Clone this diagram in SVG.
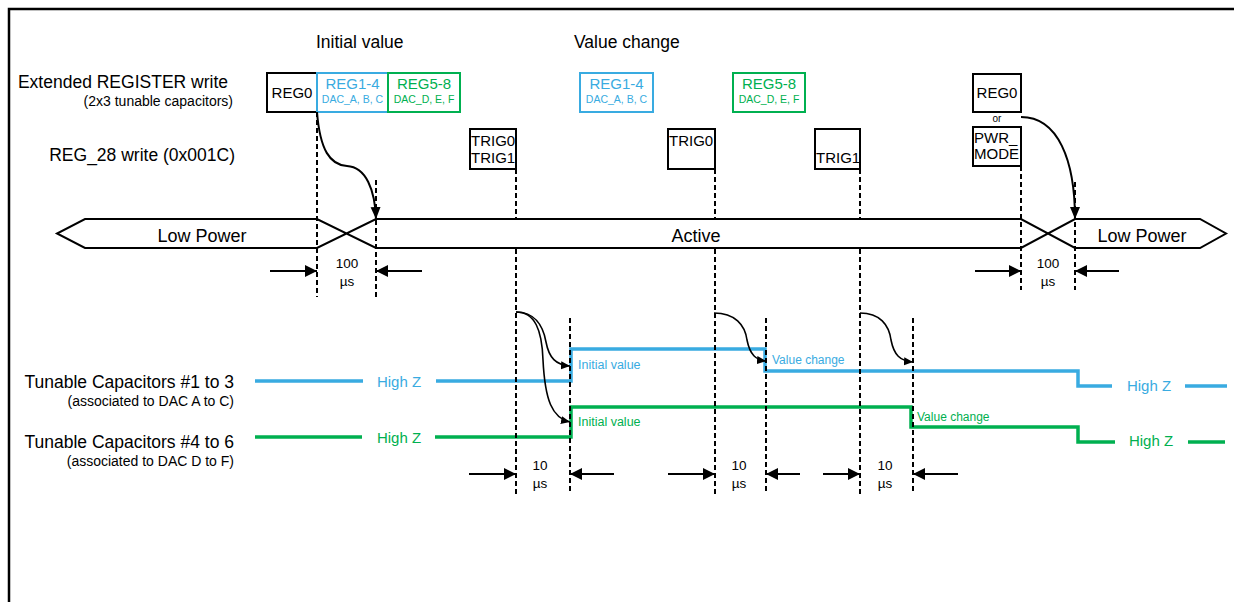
<svg xmlns="http://www.w3.org/2000/svg" width="1234" height="602" viewBox="0 0 1234 602">
<style>
text{font-family:"Liberation Sans",Arial,sans-serif;fill:#000}
.lbl{font-size:17.5px}
.sub{font-size:14px}
.box{fill:#fff;stroke:#000;stroke-width:2}
.bbox{fill:#fff;stroke:#39ABE1;stroke-width:2}
.gbox{fill:#fff;stroke:#00B050;stroke-width:2}
.bt{fill:#39ABE1}
.gt{fill:#00B050}
.reg{font-size:15px}
.dac{font-size:10.5px}
.dash{stroke:#000;stroke-width:2;stroke-dasharray:5,3;fill:none}
.ln{stroke:#000;stroke-width:2;fill:none}
.dim{stroke:#000;stroke-width:2;fill:none;marker-end:url(#dimArrow)}
.crv{stroke:#000;stroke-width:2;fill:none;marker-end:url(#crvArrow)}
.crvs{stroke:#000;stroke-width:1.6;fill:none;marker-end:url(#smArrow)}
.sig-b{stroke:#39ABE1;stroke-width:3.5;fill:none}
.sig-g{stroke:#00B050;stroke-width:3.5;fill:none}
.num{font-size:13.5px;text-anchor:middle}
</style>
<defs>
<marker id="dimArrow" markerUnits="userSpaceOnUse" markerWidth="13" markerHeight="12" refX="12" refY="6" orient="auto"><path d="M0,0 L12,6 L0,12 z" fill="#000"/></marker>
<marker id="crvArrow" markerUnits="userSpaceOnUse" markerWidth="13" markerHeight="11" refX="12" refY="5" orient="auto"><path d="M0,0 L12,5 L0,10 z" fill="#000"/></marker>
<marker id="smArrow" markerUnits="userSpaceOnUse" markerWidth="10" markerHeight="9" refX="9" refY="4" orient="auto"><path d="M0,0 L9,4 L0,8 z" fill="#000"/></marker>
</defs>
<rect width="1234" height="602" fill="#fff"/>
<path d="M9,602 V9 H1234" stroke="#000" stroke-width="2.5" fill="none"/>

<g id="labels">
<text x="316" y="48" class="lbl">Initial value</text>
<text x="574" y="48" class="lbl">Value change</text>
<text x="228" y="88" class="lbl" text-anchor="end">Extended REGISTER write</text>
<text x="233" y="106" class="sub" text-anchor="end">(2x3 tunable capacitors)</text>
<text x="235" y="161" class="lbl" text-anchor="end">REG_28 write (0x001C)</text>
<text x="234" y="388" class="lbl" text-anchor="end">Tunable Capacitors #1 to 3</text>
<text x="234" y="406" class="sub" text-anchor="end">(associated to DAC A to C)</text>
<text x="234" y="448" class="lbl" text-anchor="end">Tunable Capacitors #4 to 6</text>
<text x="234" y="466" class="sub" text-anchor="end">(associated to DAC D to F)</text>
</g>

<g id="reg0-init">
<rect x="267" y="73" width="50" height="39" class="box"/>
<text x="292" y="98" class="reg" text-anchor="middle">REG0</text>
</g>
<g id="reg1-4-init">
<rect x="317" y="73" width="71" height="39" class="bbox"/>
<text x="352.5" y="89" class="reg bt" text-anchor="middle">REG1-4</text>
<text x="352.5" y="103" class="dac bt" text-anchor="middle">DAC_A, B, C</text>
</g>
<g id="reg5-8-init">
<rect x="388" y="73" width="72" height="39" class="gbox"/>
<text x="424" y="89" class="reg gt" text-anchor="middle">REG5-8</text>
<text x="424" y="103" class="dac gt" text-anchor="middle">DAC_D, E, F</text>
</g>
<g id="reg1-4-change">
<rect x="580" y="73" width="73" height="39" class="bbox"/>
<text x="616.5" y="89" class="reg bt" text-anchor="middle">REG1-4</text>
<text x="616.5" y="103" class="dac bt" text-anchor="middle">DAC_A, B, C</text>
</g>
<g id="reg5-8-change">
<rect x="733" y="73" width="72" height="39" class="gbox"/>
<text x="769" y="89" class="reg gt" text-anchor="middle">REG5-8</text>
<text x="769" y="103" class="dac gt" text-anchor="middle">DAC_D, E, F</text>
</g>
<g id="trig01">
<rect x="470" y="129" width="46" height="40" class="box"/>
<text x="471" y="146" class="reg">TRIG0</text>
<text x="471" y="163" class="reg">TRIG1</text>
</g>
<g id="trig0">
<rect x="668" y="129" width="47" height="40" class="box"/>
<text x="669" y="146" class="reg">TRIG0</text>
</g>
<g id="trig1">
<rect x="815" y="129" width="45" height="40" class="box"/>
<text x="816" y="163" class="reg">TRIG1</text>
</g>
<g id="reg0-end">
<rect x="973" y="74" width="48" height="38" class="box"/>
<text x="997" y="98" class="reg" text-anchor="middle">REG0</text>
<text x="997" y="122" font-size="10" text-anchor="middle">or</text>
<rect x="973" y="127" width="48" height="39" class="box"/>
<text x="974" y="143" class="reg">PWR_</text>
<text x="974" y="159" class="reg">MODE</text>
</g>

<g id="power-state">
<path d="M85,219 H317 L376,248 H1021 L1075,219 H1200 L1226,233.5 L1200,248 H1075 L1021,219 H376 L317,248 H85 L57,233.5 Z" class="ln"/>
<text x="202" y="242" font-size="18" text-anchor="middle">Low Power</text>
<text x="696" y="242" font-size="18" text-anchor="middle">Active</text>
<text x="1142" y="242" font-size="18" text-anchor="middle">Low Power</text>
</g>

<g id="cap1-3">
<path d="M255,381 H363 M436,381 H571 V349 H765 V371 H1078 V386 H1112 M1185,386 H1227" class="sig-b"/>
<text x="399" y="387" font-size="15" class="bt" text-anchor="middle">High Z</text>
<text x="578" y="369" font-size="12.5" class="bt">Initial value</text>
<text x="772" y="364" font-size="12" class="bt">Value change</text>
<text x="1149" y="391" font-size="15" class="bt" text-anchor="middle">High Z</text>
</g>
<g id="cap4-6">
<path d="M255,437 H362 M435,437 H571 V407 H911 V427 H1078 V442 H1115 M1188,442 H1225" class="sig-g"/>
<text x="399" y="443" font-size="15" class="gt" text-anchor="middle">High Z</text>
<text x="578" y="426" font-size="12.5" class="gt">Initial value</text>
<text x="917" y="421" font-size="12" class="gt">Value change</text>
<text x="1151" y="446" font-size="15" class="gt" text-anchor="middle">High Z</text>
</g>

<g id="connectors">
<path d="M317,112 V297 M376,180 V297 M516,169 V219 M516,249 V494 M570,318 V494 M715,169 V219 M715,249 V494 M766,318 V494 M860,169 V219 M860,249 V494 M913,318 V494 M1021,166 V290 M1075,182 V290" class="dash"/>
<path d="M317,112 C320,150 330,165 347,166 C366,167 375,190 376,219" class="crv"/>
<path d="M1021,117 C1058,117 1075,160 1075,219" class="crv"/>
<path d="M516,312 C534,312 543,325 546,342 C549,358 556,365 570,366" class="crvs"/>
<path d="M516,312 C535,312 542,330 543,360 C545,400 552,418 570,422" class="crvs"/>
<path d="M714,313 C735,313 745,325 747,340 C750,355 756,360 766,361" class="crvs"/>
<path d="M860,313 C880,313 889,325 891,340 C894,355 900,361 913,362" class="crvs"/>
<path d="M270,271 H317" class="dim"/>
<path d="M422,271 H376" class="dim"/>
<path d="M975,271 H1021" class="dim"/>
<path d="M1119,271 H1075" class="dim"/>
<path d="M469,474 H516" class="dim"/>
<path d="M614,474 H570" class="dim"/>
<path d="M668,474 H715" class="dim"/>
<path d="M800,474 H766" class="dim"/>
<path d="M823,474 H860" class="dim"/>
<path d="M958,474 H913" class="dim"/>
</g>

<g id="durations">
<text x="347" y="268" class="num">100</text>
<text x="347" y="286" class="num">µs</text>
<text x="1048" y="268" class="num">100</text>
<text x="1048" y="286" class="num">µs</text>
<text x="540" y="470" class="num">10</text>
<text x="540" y="488" class="num">µs</text>
<text x="739" y="470" class="num">10</text>
<text x="739" y="488" class="num">µs</text>
<text x="885" y="470" class="num">10</text>
<text x="885" y="488" class="num">µs</text>
</g>
</svg>
